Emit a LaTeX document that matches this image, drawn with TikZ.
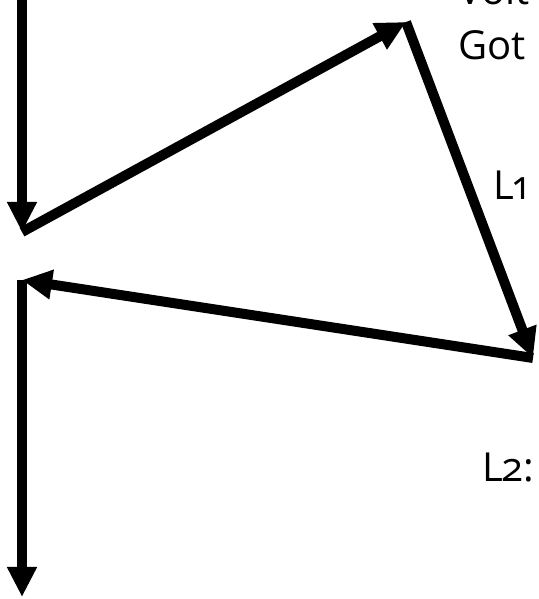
\documentclass[tikz,border=0pt]{standalone}
\usepackage{fontspec}
\setmainfont[Numbers=OldStyle]{Open Sans}
\usetikzlibrary{arrows.meta}

\begin{document}
\begin{tikzpicture}[
    x=1pt, y=1pt,
    font=\fontsize{40}{46}\selectfont,
    leg/.style={line width=10pt, -{Triangle[length=30pt, width=28pt]}},
    label/.style={anchor=base west, inner sep=0pt},
  ]
  \useasboundingbox (0,0) rectangle (538,599);
  \clip (0,0) rectangle (538,599);

  % corner points of the path
  \coordinate (top)   at (22,610);
  \coordinate (left)  at (22,367);
  \coordinate (peak)  at (406,577);
  \coordinate (right) at (533,241);
  \coordinate (back)  at (22,319);
  \coordinate (down)  at (22,2);

  % arrows
  \draw[leg] (top) -- (left);
  \draw[leg] (left) -- (peak);
  \draw[leg] (peak) -- (right);
  \draw[leg] (right) -- (back);
  \draw[leg] (back) -- (down);

  % texts at the right edge
  \node[label] (vol) at (458,594) {Volt};
  \node[label] (got) at (458,539) {Got};
  \node[label] (lone) at (493,399) {L1};
  \node[label] (ltwo) at (482,117) {L2:};

\end{tikzpicture}
\end{document}
